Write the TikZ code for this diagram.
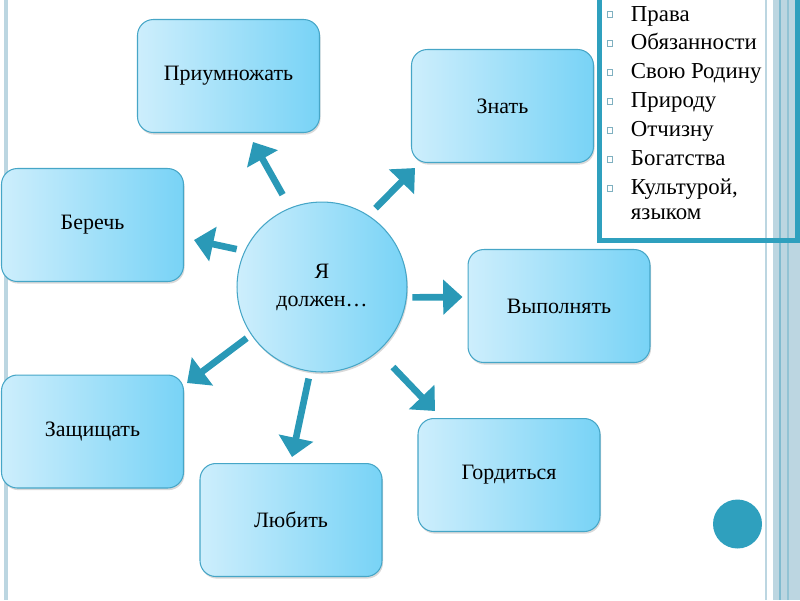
\documentclass[tikz,border=0pt]{standalone}
\usepackage{fontspec}
\setmainfont{Liberation Serif}
\usetikzlibrary{arrows.meta,shadows,calc}

\definecolor{boxlight}{HTML}{CDEEFC}
\definecolor{boxdark}{HTML}{78D3F6}
\definecolor{boxline}{HTML}{46A6C7}
\definecolor{arrowteal}{HTML}{2A99B7}
\definecolor{rulelight}{HTML}{BCD6E1}
\definecolor{ruledark}{HTML}{80BBCF}
\definecolor{frameteal}{HTML}{2FA0BE}
\definecolor{bulletline}{HTML}{7FB0C0}

\newcommand{\sqbullet}{\raisebox{2pt}{\textcolor{bulletline}{\fboxsep=0pt\fboxrule=0.4pt\fbox{\rule{0pt}{3.4pt}\hspace{2.4pt}}}}}

\begin{document}
\begin{tikzpicture}[
  x=0.02cm, y=-0.02cm,
  idea/.style={rectangle, rounded corners=9pt, draw=boxline, line width=0.6pt,
               left color=boxlight, right color=boxdark,
               minimum width=3.64cm, minimum height=2.26cm, align=center,
               font=\fontsize{12.5}{15}\selectfont,
               drop shadow={shadow xshift=0.6pt, shadow yshift=-1.2pt, opacity=0.3}},
  hub/.style={circle, draw=boxline, line width=0.6pt,
              left color=boxlight, right color=boxdark,
              minimum size=3.4cm, align=center,
              font=\fontsize{12.5}{16}\selectfont,
              drop shadow={shadow xshift=0.6pt, shadow yshift=-1.2pt, opacity=0.3}},
  link/.style={-{Triangle[length=11pt,width=19.5pt]}, line width=3.8pt, draw=arrowteal},
  listtext/.style={inner sep=0pt, font=\fontsize{13}{16.5}\selectfont},
]

\useasboundingbox (0,0) rectangle (800,600);

\draw[rulelight, line width=0.08cm] (6,0) -- (6,600);
\fill[rulelight] (773,0) rectangle (800,600);
\draw[rulelight, line width=0.05cm] (766,0) -- (766,600);
\draw[ruledark, line width=0.04cm] (780,0) -- (780,600);
\draw[ruledark!70!rulelight, line width=0.04cm] (788,0) -- (788,600);

\draw[frameteal, line width=0.1cm] (599.5,-10) rectangle (797.5,240);

\node[listtext, anchor=base west] (duties) at (607,21) {\begin{tabular}[t]{@{}l@{\hspace{0.36cm}}l@{}}
\sqbullet & Права\\
\sqbullet & Обязанности\\
\sqbullet & Свою Родину\\
\sqbullet & Природу\\
\sqbullet & Отчизну\\
\sqbullet & Богатства\\
\sqbullet & Культурой,\\[-2.8pt]
          & языком
\end{tabular}};

\fill[frameteal] (737.5,524) circle [radius=0.49cm];

\node[hub] (hub) at (322,287) {Я\\должен…};

\node[idea] (keep)   at (228.5,76)  {Приумножать};
\node[idea] (know)   at (502.5,106) {Знать};
\node[idea] (save)   at (92.5,225)  {Беречь};
\node[idea] (fulfil) at (559,306)   {Выполнять};
\node[idea] (defend) at (92.5,431.5){Защищать};
\node[idea] (love)   at (291,520)   {Любить};
\node[idea] (proud)  at (509,475)   {Гордиться};

\draw[link, shorten <=0.3cm]  (hub.112)  -- ([shift={(24.5,9)}]keep.south);
\draw[link, shorten <=0.16cm] (hub.155)  -- ([shift={(10,15)}]save.east);
\draw[link, shorten <=0.2cm]  (hub.57)   -- ([shift={(-87.5,5)}]know.south);
\draw[link, shorten <=0.11cm] (hub.-7)   -- ([shift={(-5,-9)}]fulfil.west);
\draw[link, shorten <=0.43cm] (hub.-49)  -- ([shift={(-74,-7)}]proud.north);
\draw[link, shorten <=0.14cm] (hub.-98)  -- ([shift={(1,-6)}]love.north);
\draw[link, shorten <=0.11cm] (hub.-146) -- ([shift={(3,-48.5)}]defend.east);

\end{tikzpicture}
\end{document}
